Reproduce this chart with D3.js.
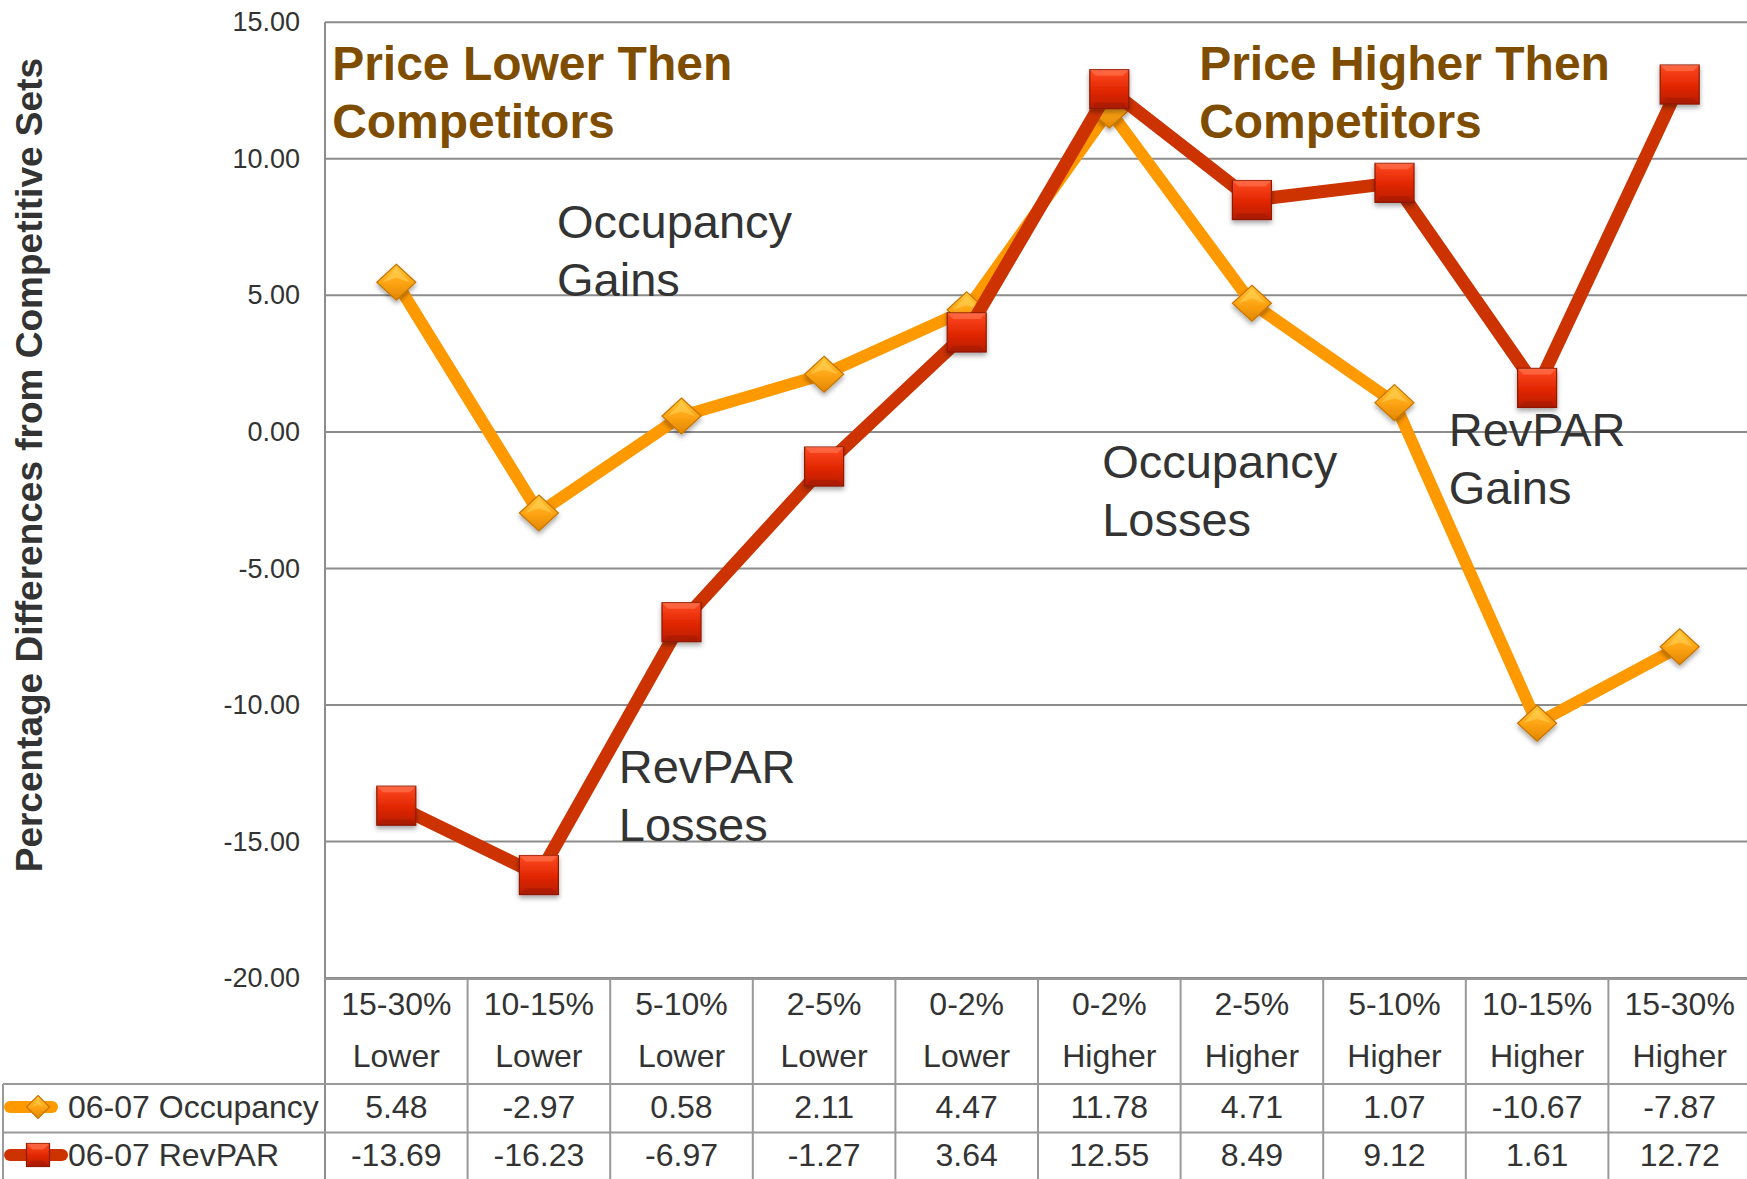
<!DOCTYPE html>
<html><head><meta charset="utf-8">
<script src="https://cdn.jsdelivr.net/npm/d3@7"></script>
<style>
html,body{margin:0;padding:0;background:#fff;}
svg{display:block;font-family:"Liberation Sans",Arial,Helvetica,sans-serif;}
</style></head>
<body>
<svg id="chart" width="1747" height="1179"></svg>
<script>
// ---------- data ----------
const rangeLabels = ["15-30%","10-15%","5-10%","2-5%","0-2%","0-2%","2-5%","5-10%","10-15%","15-30%"];
const sideLabels  = ["Lower","Lower","Lower","Lower","Lower","Higher","Higher","Higher","Higher","Higher"];
const occupancy   = [5.48,-2.97,0.58,2.11,4.47,11.78,4.71,1.07,-10.67,-7.87];
const revpar      = [-13.69,-16.23,-6.97,-1.27,3.64,12.55,8.49,9.12,1.61,12.72];
const seriesNames = ["06-07 Occupancy","06-07 RevPAR"];
const yTicks      = [15,10,5,0,-5,-10,-15,-20];
const axisTitle   = "Percentage Differences from Competitive Sets";
const regionTitles = [["Price Lower Then","Competitors"],["Price Higher Then","Competitors"]];
const notes = [
  {lines:["Occupancy","Gains"], cat:1.627, val:7.10},
  {lines:["RevPAR","Losses"], cat:2.06, val:-12.86},
  {lines:["Occupancy","Losses"], cat:5.45, val:-1.70},
  {lines:["RevPAR","Gains"], cat:7.88, val:-0.52}
];

// ---------- layout ----------
const svg = d3.select("#chart");
const W = 1747, H = 1179;
const pLeft = 325, pRight = 1751, pTop = 22.3, pBottom = 978;
const idx = d3.range(rangeLabels.length);
const x = d3.scaleBand().domain(idx).range([pLeft, pRight]);
const xi = d3.scaleLinear().domain([0, rangeLabels.length]).range([pLeft, pRight]); // continuous index
const y = d3.scaleLinear().domain([-20, 15]).range([pBottom, pTop]);
const cx = i => x(i) + x.bandwidth()/2;
const fmt = d3.formatLocale({decimal:".", thousands:",", grouping:[3], currency:["$",""], minus:"-"}).format(".2f");

const TXT = "#333333", GRID = "#8c8c8c";
const defs = svg.append("defs");

// gradients
const gSq = defs.append("linearGradient").attr("id","gSq").attr("x1",0).attr("y1",0).attr("x2",0).attr("y2",1);
gSq.append("stop").attr("offset","0%").attr("stop-color","#ff4a22");
gSq.append("stop").attr("offset","55%").attr("stop-color","#e02600");
gSq.append("stop").attr("offset","100%").attr("stop-color","#b81c00");
const gDi = defs.append("linearGradient").attr("id","gDi").attr("x1",0).attr("y1",0).attr("x2",0).attr("y2",1);
gDi.append("stop").attr("offset","0%").attr("stop-color","#ffc83a");
gDi.append("stop").attr("offset","50%").attr("stop-color","#ffa514");
gDi.append("stop").attr("offset","100%").attr("stop-color","#e08600");
const sh = defs.append("filter").attr("id","shadow").attr("x","-30%").attr("y","-30%").attr("width","160%").attr("height","170%");
sh.append("feDropShadow").attr("dx",0).attr("dy",3).attr("stdDeviation",2.5).attr("flood-color","#000").attr("flood-opacity",0.35);

// ---------- gridlines ----------
svg.append("g").selectAll("line").data(yTicks).join("line")
  .attr("x1", pLeft).attr("x2", W).attr("y1", d=>y(d)).attr("y2", d=>y(d))
  .attr("stroke", GRID).attr("stroke-width", 2);

// y axis (labels)
const yAxis = svg.append("g").attr("transform",`translate(${pLeft},0)`)
  .call(d3.axisLeft(y).tickValues(yTicks).tickFormat(fmt).tickSize(0).tickPadding(25));
yAxis.select(".domain").remove();
yAxis.attr("font-family",null).attr("font-size",null);
yAxis.selectAll("text").attr("font-size",27).attr("fill",TXT);

// left axis line
svg.append("line").attr("x1",pLeft).attr("x2",pLeft).attr("y1",pTop).attr("y2",H)
  .attr("stroke",GRID).attr("stroke-width",2);

// axis title
svg.append("text").attr("transform",`translate(42,${(pTop+pBottom)/2 - 35}) rotate(-90)`)
  .attr("text-anchor","middle").attr("font-size",37).attr("font-weight","bold").attr("fill",TXT)
  .text(axisTitle);

// ---------- region titles ----------
const titleX = [xi(0.05), xi(6.13)];
regionTitles.forEach((lines, k) => {
  const t = svg.append("text").attr("font-size",48).attr("font-weight","bold").attr("fill","#7e4d00");
  lines.forEach((s, j) => t.append("tspan").attr("x", titleX[k]).attr("y", y(12.9) + j*58).text(s));
});

// ---------- divider ----------
svg.append("line").attr("x1", xi(5)-6).attr("x2", xi(5)-6).attr("y1", 7).attr("y2", 967)
  .attr("stroke","#2b2b2b").attr("stroke-width",7).attr("filter","url(#shadow)");

// ---------- annotations ----------
notes.forEach(n => {
  const t = svg.append("text").attr("font-size",47).attr("fill",TXT);
  n.lines.forEach((s,j) => t.append("tspan").attr("x", xi(n.cat)).attr("y", y(n.val) + j*58).text(s));
});

// ---------- series ----------
const line = d3.line().x((d,i)=>cx(i)).y(d=>y(d));
function diamond(g, w, h){
  g.append("path").attr("d",`M0,${-h/2}L${w/2},0L0,${h/2}L${-w/2},0Z`)
   .attr("fill","url(#gDi)").attr("stroke","#c67400").attr("stroke-width",1.2);
  g.append("path").attr("d",`M0,${-h/2+4}L${w/2-6},0L0,${-h/8}L${-w/2+6},0Z`)
   .attr("fill","#ffd45a").attr("opacity",0.55);
}
function square(g, s){
  g.append("rect").attr("x",-s/2).attr("y",-s/2).attr("width",s).attr("height",s)
   .attr("fill","url(#gSq)").attr("stroke","#8a1a00").attr("stroke-width",1.2);
  g.append("path").attr("d",`M${-s/2},${-s/2}L${s/2},${-s/2}L${s/2-6},${-s/2+6}L${-s/2+6},${-s/2+6}Z`)
   .attr("fill","#ff7a55").attr("opacity",0.6);
  g.append("path").attr("d",`M${-s/2},${s/2}L${s/2},${s/2}L${s/2-6},${s/2-6}L${-s/2+6},${s/2-6}Z`)
   .attr("fill","#9a1800").attr("opacity",0.45);
}

svg.append("path").datum(occupancy).attr("d",line).attr("fill","none")
  .attr("stroke","#ff9900").attr("stroke-width",12).attr("stroke-linejoin","round");
svg.append("g").selectAll("g").data(occupancy).join("g")
  .attr("transform",(d,i)=>`translate(${cx(i)},${y(d)})`).attr("filter","url(#shadow)")
  .each(function(){ diamond(d3.select(this), 39, 36); });

svg.append("path").datum(revpar).attr("d",line).attr("fill","none")
  .attr("stroke","#cc3300").attr("stroke-width",13).attr("stroke-linejoin","round");
svg.append("g").selectAll("g").data(revpar).join("g")
  .attr("transform",(d,i)=>`translate(${cx(i)},${y(d)})`).attr("filter","url(#shadow)")
  .each(function(){ square(d3.select(this), 39); });

// ---------- data table ----------
const tTop = pBottom + 1, r1 = 1084, r2 = 1132.5;
const tl = svg.append("g").attr("stroke","#999").attr("stroke-width",2);
tl.append("line").attr("x1",pLeft).attr("x2",W).attr("y1",tTop).attr("y2",tTop);
[r1, r2].forEach(yy => tl.append("line").attr("x1",3).attr("x2",W).attr("y1",yy).attr("y2",yy));
tl.append("line").attr("x1",3).attr("x2",3).attr("y1",r1).attr("y2",H);
idx.slice(1).forEach(i => tl.append("line").attr("x1",x(i)).attr("x2",x(i)).attr("y1",tTop).attr("y2",H));

const tt = svg.append("g").attr("font-size",32).attr("fill",TXT).attr("text-anchor","middle");
tt.selectAll(".h1").data(rangeLabels).join("text").attr("x",(d,i)=>cx(i)).attr("y",1015).text(d=>d);
tt.selectAll(".h2").data(sideLabels).join("text").attr("x",(d,i)=>cx(i)).attr("y",1067).text(d=>d);
tt.selectAll(".v1").data(occupancy).join("text").attr("x",(d,i)=>cx(i)).attr("y",1118).text(fmt);
tt.selectAll(".v2").data(revpar).join("text").attr("x",(d,i)=>cx(i)).attr("y",1166).text(fmt);

// legend keys
const lg = svg.append("g");
lg.append("line").attr("x1",10).attr("x2",52).attr("y1",1107).attr("y2",1107)
  .attr("stroke","#ff9900").attr("stroke-width",12).attr("stroke-linecap","round");
const ld = lg.append("g").attr("transform","translate(38,1107)"); diamond(ld, 23, 23);
lg.append("line").attr("x1",10).attr("x2",62).attr("y1",1155).attr("y2",1155)
  .attr("stroke","#cc3300").attr("stroke-width",12).attr("stroke-linecap","round");
const ls = lg.append("g").attr("transform","translate(38,1155)"); square(ls, 23);
lg.selectAll("text.leg").data(seriesNames).join("text").attr("class","leg")
  .attr("x",68).attr("y",(d,i)=> i? 1166 : 1118).attr("font-size",32).attr("fill",TXT).text(d=>d);
</script>
</body></html>
